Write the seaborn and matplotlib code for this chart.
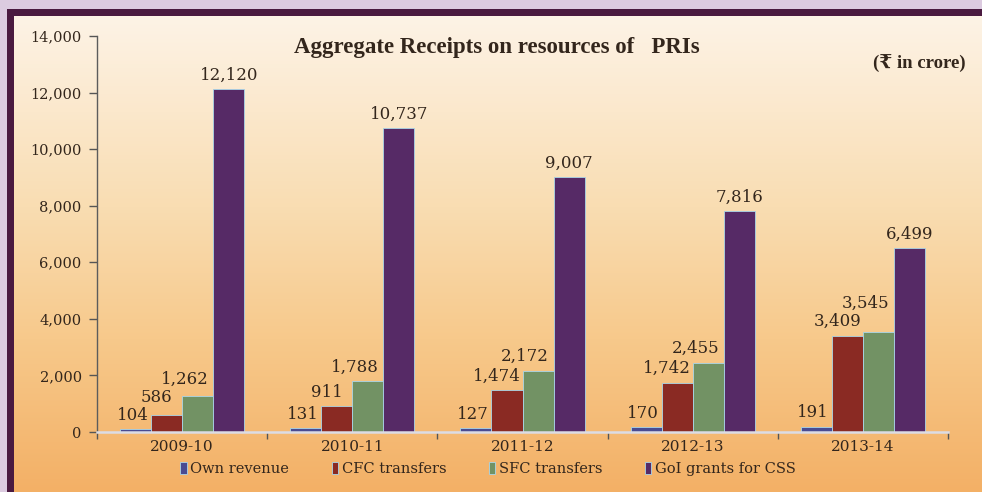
import numpy as np
import pandas as pd
import matplotlib
matplotlib.use("Agg")
import matplotlib.pyplot as plt
from matplotlib.colors import LinearSegmentedColormap
from matplotlib.patches import Rectangle
from matplotlib.ticker import FuncFormatter, FixedLocator
import seaborn as sns

# ---------------- data ----------------
years = ["2009-10", "2010-11", "2011-12", "2012-13", "2013-14"]
own_revenue = [104, 131, 127, 170, 191]
cfc_transfers = [586, 911, 1474, 1742, 3409]
sfc_transfers = [1262, 1788, 2172, 2455, 3545]
goi_grants = [12120, 10737, 9007, 7816, 6499]

series_names = ["Own revenue", "CFC transfers", "SFC transfers", "GoI grants for CSS"]
series_colors = ["#3d3f9e", "#9b1b12", "#6f9a5c", "#5a2070"]
# small leftward nudge of the value labels, per series (in pixels)
label_nudge = [-3, -10, -13, 0]

df = pd.DataFrame({
    "year": years * 4,
    "series": [s for s in series_names for _ in years],
    "value": own_revenue + cfc_transfers + sfc_transfers + goi_grants,
})

# ---------------- style ----------------
sns.set_style("white")
plt.rcParams["font.family"] = ["DejaVu Serif", "DejaVu Sans"]
times = ["Liberation Serif", "DejaVu Serif", "DejaVu Sans"]
text_color = "#33261c"

fig = plt.figure(figsize=(9.82, 4.92), dpi=100)
fig.patch.set_facecolor("#dccbe0")

# dark frame + gradient panel
fig.add_artist(Rectangle((7 / 982, 0), 1, 1 - 9 / 492, transform=fig.transFigure,
                         facecolor="#4a1a40", edgecolor="none", zorder=0))
bg = fig.add_axes([14 / 982, 0, 1 - 14 / 982, 1 - 16 / 492], zorder=0)
cmap = LinearSegmentedColormap.from_list(
    "panel", [(0, "#fdf3e6"), (0.4, "#f9ddb2"), (0.68, "#f7c98b"), (1, "#f3b066")])
grad = np.linspace(0, 1, 256).reshape(-1, 1)
bg.imshow(grad, aspect="auto", cmap=cmap, extent=[0, 1, 1, 0])
bg.set_axis_off()

ax = fig.add_axes([97 / 982, 1 - 432 / 492, (948 - 97) / 982, (432 - 36) / 492], zorder=1)
ax.patch.set_alpha(0)

sns.barplot(data=df, x="year", y="value", hue="series", hue_order=series_names,
            palette=series_colors, width=0.73, edgecolor="#a9d6ea", linewidth=0.6,
            ax=ax, legend=True)

# value labels
labels_by_series = []
for cont, dx in zip(ax.containers, label_nudge):
    row = []
    for b in cont:
        v = b.get_height()
        t = ax.annotate(f"{v:,.0f}", (b.get_x() + b.get_width() / 2, v),
                        xytext=(dx * 0.72, 4), textcoords="offset points",
                        ha="center", va="bottom", fontsize=12, color=text_color)
        row.append(t)
    labels_by_series.append(row)

ax.set_ylim(0, 14000)
ax.set_xlim(-0.5, 4.5)
ax.set_yticks(np.arange(0, 14001, 2000))
ax.yaxis.set_major_formatter(FuncFormatter(lambda v, p: f"{v:,.0f}"))
ax.set_xlabel("")
ax.set_ylabel("")

ax.tick_params(axis="y", direction="out", length=6, width=1, color="#555555",
               labelsize=10.5, labelcolor=text_color, pad=5, left=True)
ax.tick_params(axis="x", which="major", length=0, labelsize=11,
               labelcolor=text_color, pad=6)
ax.xaxis.set_minor_locator(FixedLocator(np.arange(-0.5, 4.6, 1)))
ax.tick_params(axis="x", which="minor", direction="out", length=5, width=1,
               color="#555555", bottom=True)

for s in ["top", "right"]:
    ax.spines[s].set_visible(False)
ax.spines["left"].set_color("#5c5c5c")
ax.spines["left"].set_linewidth(1.0)
ax.spines["bottom"].set_color("#dcdce4")
ax.spines["bottom"].set_linewidth(1.8)

fig.text(497 / 982, 1 - 47 / 492, "Aggregate Receipts on resources of   PRIs",
         ha="center", va="center", fontsize=16.5, fontweight="bold", color=text_color,
         family=times)
fig.text(966 / 982, 1 - 64 / 492, "(\u20b9 in crore)", ha="right", va="center",
         fontsize=13.5, fontweight="bold", color=text_color, family=times)

handles, labels = ax.get_legend_handles_labels()
ax.get_legend().remove()
fig.legend(handles, labels, loc="center", bbox_to_anchor=(488 / 982, 1 - 469 / 492),
           ncol=4, frameon=False, fontsize=10.5, handlelength=0.45, handleheight=0.8,
           handletextpad=0.25, columnspacing=2.9, labelcolor=text_color,
           borderpad=0.1)

# lift a value label that collides with its left neighbour
fig.canvas.draw()
renderer = fig.canvas.get_renderer()
for g in range(len(years)):
    for s in range(1, len(series_names)):
        prev = labels_by_series[s - 1][g].get_window_extent(renderer)
        cur_t = labels_by_series[s][g]
        cur = cur_t.get_window_extent(renderer)
        if cur.overlaps(prev):
            lift = prev.y1 - cur.y0 + 1
            x0, y0 = cur_t.xyann
            cur_t.xyann = (x0, y0 + lift * 0.72)

fig.savefig("out.png", dpi=100)
